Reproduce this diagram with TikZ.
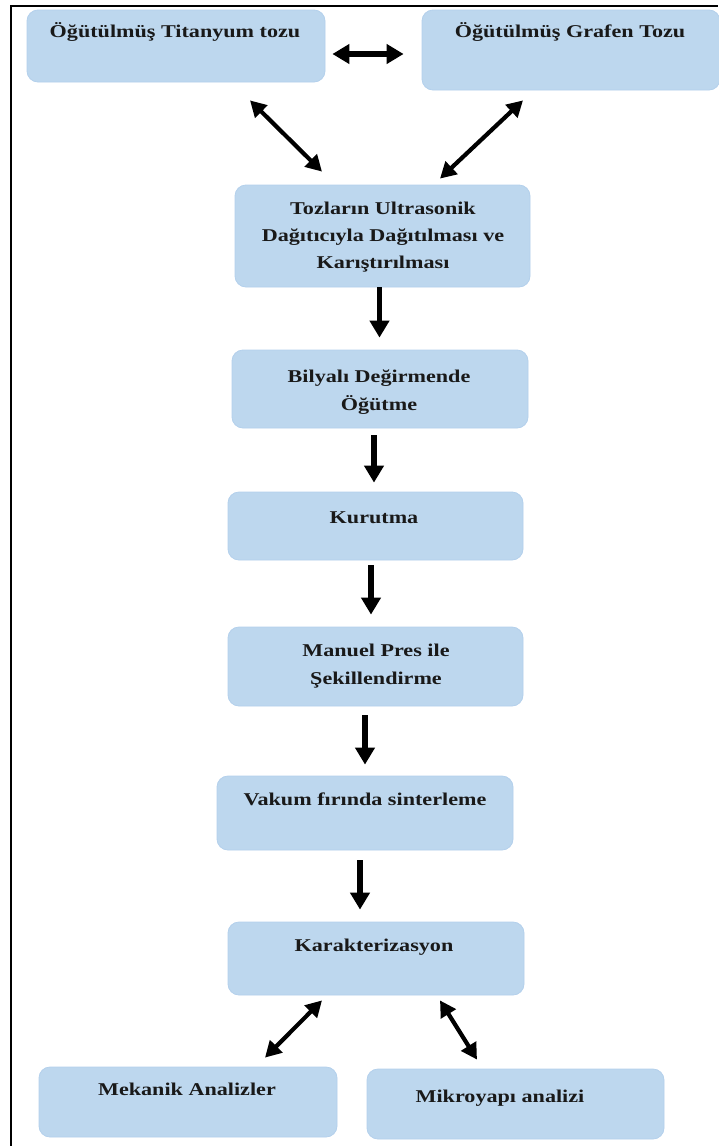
\documentclass[tikz,border=0pt]{standalone}
\usepackage{fontspec}
\setmainfont{Liberation Serif}[FakeStretch=1.23]
\usetikzlibrary{arrows.meta}
\definecolor{boxfill}{RGB}{189,215,238}
\definecolor{boxedge}{RGB}{180,208,236}
\begin{document}
\begin{tikzpicture}[x=1pt,y=-1pt,
  box/.style={draw=boxedge, line width=0.8pt, fill=boxfill, rounded corners=11pt, inner sep=0pt},
  txt/.style={anchor=base, inner sep=0pt, text={black!90}, font=\fontsize{18}{27}\selectfont\bfseries},
  varrow/.style={line width=5.5pt, -{Triangle[length=17pt,width=19pt]}},
  harrow/.style={line width=5.5pt, {Triangle[length=17pt,width=19pt]}-{Triangle[length=17pt,width=19pt]}},
  darrow/.style={line width=4.2pt, {Triangle[length=16pt,width=17pt]}-{Triangle[length=16pt,width=17pt]}},
  frame/.style={line width=2pt, black}
]
\useasboundingbox (0,0) rectangle (718,1146);
\fill[white] (0,0) rectangle (718,1146);

% frame
\coordinate (fa) at (11,1146);
\coordinate (fb) at (11,6);
\coordinate (fc) at (718,6);
\draw[frame] (fa) -- (fb) -- (fc);

% boxes
\node[box, minimum width=298pt, minimum height=72pt] (b1) at (176,46) {};
\node[box, minimum width=298pt, minimum height=80pt] (b2) at (571,50) {};
\node[box, minimum width=295pt, minimum height=102pt] (b3) at (382.5,236) {};
\node[box, minimum width=296pt, minimum height=78pt] (b4) at (380,389) {};
\node[box, minimum width=295pt, minimum height=68pt] (b5) at (375.5,526) {};
\node[box, minimum width=295pt, minimum height=79pt] (b6) at (375.5,666.5) {};
\node[box, minimum width=296pt, minimum height=74pt] (b7) at (365,813) {};
\node[box, minimum width=296pt, minimum height=73pt] (b8) at (376,958.5) {};
\node[box, minimum width=298pt, minimum height=70pt] (b9) at (188,1102) {};
\node[box, minimum width=297pt, minimum height=70pt] (b10) at (515.5,1104) {};

% texts
\node[txt] (t1) at (175,37) {Öğütülmüş Titanyum tozu};
\node[txt] (t2) at (570,37) {Öğütülmüş Grafen Tozu};
\node[txt] (t3a) at (383,214) {Tozların Ultrasonik};
\node[txt] (t3b) at (383,241) {Dağıtıcıyla Dağıtılması ve};
\node[txt] (t3c) at (383,268) {Karıştırılması};
\node[txt] (t4a) at (379,382) {Bilyalı Değirmende};
\node[txt] (t4b) at (379,410) {Öğütme};
\node[txt] (t5) at (374,523) {Kurutma};
\node[txt] (t6a) at (376,656) {Manuel Pres ile};
\node[txt] (t6b) at (376,684) {Şekillendirme};
\node[txt] (t7) at (365,805) {Vakum fırında sinterleme};
\node[txt] (t8) at (374,951) {Karakterizasyon};
\node[txt] (t9) at (187,1095) {Mekanik Analizler};
\node[txt] (t10) at (500,1102) {Mikroyapı analizi};

% connectors
\draw[harrow] ([xshift=7pt,yshift=-8pt]b1.east) -- ([xshift=-18pt,yshift=-4pt]b2.west);
\draw[darrow] ([xshift=74pt,yshift=-18pt]b1.south) -- ([xshift=-60.5pt,yshift=13pt]b3.north);
\draw[darrow] ([xshift=-48pt,yshift=-10pt]b2.south) -- ([xshift=57.5pt,yshift=6pt]b3.north);
\draw[varrow] ([xshift=-3pt]b3.south) -- ([xshift=-0.5pt,yshift=12pt]b4.north);
\draw[varrow] ([xshift=-6pt,yshift=-7pt]b4.south) -- ([xshift=-1.5pt,yshift=9pt]b5.north);
\draw[varrow] ([xshift=-4.5pt,yshift=-5pt]b5.south) -- ([xshift=-4.5pt,yshift=12pt]b6.north);
\draw[varrow] ([xshift=-10.5pt,yshift=-9pt]b6.south) -- ([yshift=11pt]b7.north);
\draw[varrow] ([xshift=-5pt,yshift=-10pt]b7.south) -- ([xshift=-16pt,yshift=12pt]b8.north);
\draw[darrow] ([xshift=-54pt,yshift=-5pt]b8.south) -- ([xshift=77pt,yshift=9pt]b9.north);
\draw[darrow] ([xshift=64pt,yshift=-5pt]b8.south) -- ([xshift=-38.5pt,yshift=9pt]b10.north);
\end{tikzpicture}
\end{document}
